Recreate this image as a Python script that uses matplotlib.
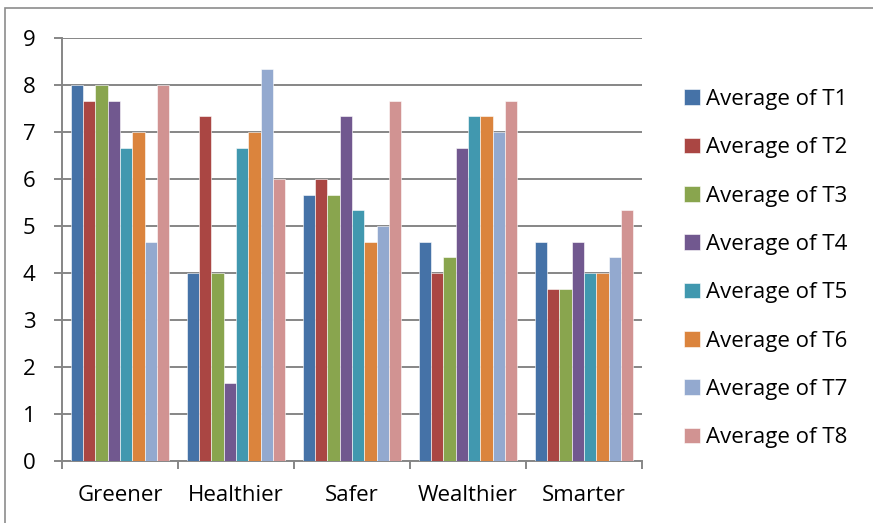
import numpy as np
import matplotlib
matplotlib.use("Agg")
import matplotlib.pyplot as plt
from matplotlib.patches import Rectangle

plt.rcParams["font.family"] = ["Open Sans", "DejaVu Sans"]

categories = ["Greener", "Healthier", "Safer", "Wealthier", "Smarter"]
series_names = ["Average of T1", "Average of T2", "Average of T3", "Average of T4",
                "Average of T5", "Average of T6", "Average of T7", "Average of T8"]

t1 = [8.00, 4.00, 5.67, 4.67, 4.67]
t2 = [7.67, 7.33, 6.00, 4.00, 3.67]
t3 = [8.00, 4.00, 5.67, 4.33, 3.67]
t4 = [7.67, 1.67, 7.33, 6.67, 4.67]
t5 = [6.67, 6.67, 5.33, 7.33, 4.00]
t6 = [7.00, 7.00, 4.67, 7.33, 4.00]
t7 = [4.67, 8.33, 5.00, 7.00, 4.33]
t8 = [8.00, 6.00, 7.67, 7.67, 5.33]
series = [t1, t2, t3, t4, t5, t6, t7, t8]

colors = ["#4572A7", "#AA4643", "#89A54E", "#71588F",
          "#4198AF", "#DB843D", "#93A9CF", "#D19392"]

W, H = 873, 523
fig = plt.figure(figsize=(W / 100, H / 100), dpi=100)
ax = fig.add_axes([62 / W, 1 - 461 / H, 580 / W, 423 / H])

x = np.arange(len(categories))
group = 0.845
bw = group / len(series)
for k, (vals, c, name) in enumerate(zip(series, colors, series_names)):
    ax.bar(x - group / 2 + bw * (k + 0.5), vals, bw, color=c, label=name,
           edgecolor="white", linewidth=0.4, zorder=3)

grid_c = "#868686"
ax.set_xlim(-0.5, len(categories) - 0.5)
ax.set_ylim(0, 9)
ax.set_yticks(range(10))
ax.yaxis.grid(True, color=grid_c, linewidth=1.4, zorder=1)
ax.set_xticks(np.arange(len(categories) + 1) - 0.5)
ax.set_xticklabels([])
ax.set_xticks(x, minor=True)
ax.set_xticklabels(categories, minor=True)
ax.tick_params(axis="x", which="minor", length=0, pad=17, labelsize=16)
ax.tick_params(axis="x", which="major", length=6, width=1.4, color=grid_c)
ax.tick_params(axis="y", length=6, width=1.4, color=grid_c, labelsize=16, pad=13)
for s in ("top", "right"):
    ax.spines[s].set_visible(False)
for s in ("left", "bottom"):
    ax.spines[s].set_color(grid_c)
    ax.spines[s].set_linewidth(1.4)

leg = ax.legend(loc="upper left", bbox_to_anchor=(684 / W, 1 - 89 / H),
                bbox_transform=fig.transFigure, frameon=False, fontsize=16,
                handlelength=0.7, handleheight=0.7, handletextpad=0.3,
                labelspacing=1.23, borderaxespad=0, borderpad=0)

# chart border
fig.add_artist(Rectangle((5 / W, -0.1), 1.2, 1 - 8 / H + 0.1, transform=fig.transFigure,
                         fill=False, edgecolor="#8c8c8c", linewidth=1.2))

fig.savefig("out.png", dpi=100)
